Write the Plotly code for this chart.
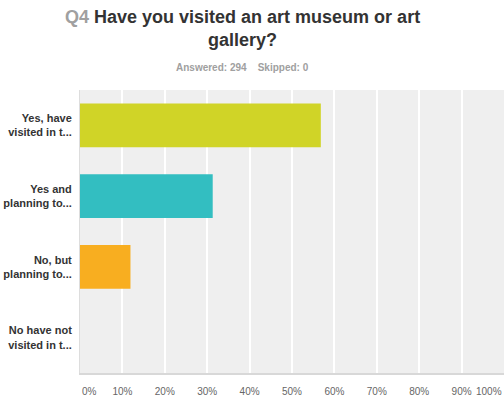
import plotly.graph_objects as go

categories = ["Yes, have<br>visited in t...", "Yes and<br>planning to...",
              "No, but<br>planning to...", "No have not<br>visited in t..."]
values = [56.8, 31.3, 11.9, 0.0]
colors = ["#d0d427", "#33bec1", "#f8ae20", "#999999"]
tick_vals = [10, 20, 30, 40, 50, 60, 70, 80, 90]
tick_text = ["10%", "20%", "30%", "40%", "50%", "60%", "70%", "80%", "90%"]

FONT = "Liberation Sans, Arial, sans-serif"

fig = go.Figure(go.Bar(
    y=categories, x=values, orientation="h",
    marker=dict(color=colors, line=dict(width=0)),
    width=0.62, hoverinfo="skip",
))

fig.update_layout(
    width=504, height=398,
    margin=dict(l=80, r=0, t=90, b=25),
    paper_bgcolor="white", plot_bgcolor="#efefef",
    showlegend=False,
    font=dict(family=FONT),
)

fig.update_xaxes(
    range=[0, 100], tickvals=tick_vals, ticktext=tick_text,
    showgrid=True, gridcolor="white", gridwidth=2,
    tickfont=dict(size=10, color="#666666"),
    ticks="outside", ticklen=8, tickcolor="rgba(0,0,0,0)",
    showline=True, linecolor="#d8d8d8", linewidth=2,
    zeroline=False, fixedrange=True,
)
fig.update_yaxes(
    autorange="reversed",
    tickfont=dict(size=11, color="#333333", weight="bold"),
    showline=True, linecolor="#dddddd", linewidth=1,
    ticks="outside", ticklen=5, tickcolor="rgba(0,0,0,0)",
    showgrid=False, fixedrange=True,
)

# end tick labels kept inside the page
fig.add_annotation(x=0, y=0, xref="x", yref="paper", yshift=-18, text="0%",
                   showarrow=False, xanchor="left", yanchor="middle",
                   font=dict(size=10, color="#666666", family=FONT))
fig.add_annotation(x=100, y=0, xref="x", yref="paper", yshift=-18, text="100%",
                   showarrow=False, xanchor="right", yanchor="middle",
                   font=dict(size=10, color="#666666", family=FONT))

fig.add_annotation(
    xref="paper", yref="paper", x=(242 - 80) / 424, y=(373 - 28.5) / 283,
    text="<span style='color:#a0a0a0'>Q4</span> Have you visited an art museum or art<br>gallery?",
    showarrow=False, xanchor="center", yanchor="middle",
    font=dict(size=18, color="#333333", family=FONT, weight="bold"),
)
fig.add_annotation(
    xref="paper", yref="paper", x=(242 - 80) / 424, y=(373 - 67) / 283,
    text="Answered: 294&nbsp;&nbsp;&nbsp;&nbsp;Skipped: 0",
    showarrow=False, xanchor="center", yanchor="middle",
    font=dict(size=10, color="#a0a0a0", family=FONT, weight="bold"),
)

fig.write_html("out.html")
